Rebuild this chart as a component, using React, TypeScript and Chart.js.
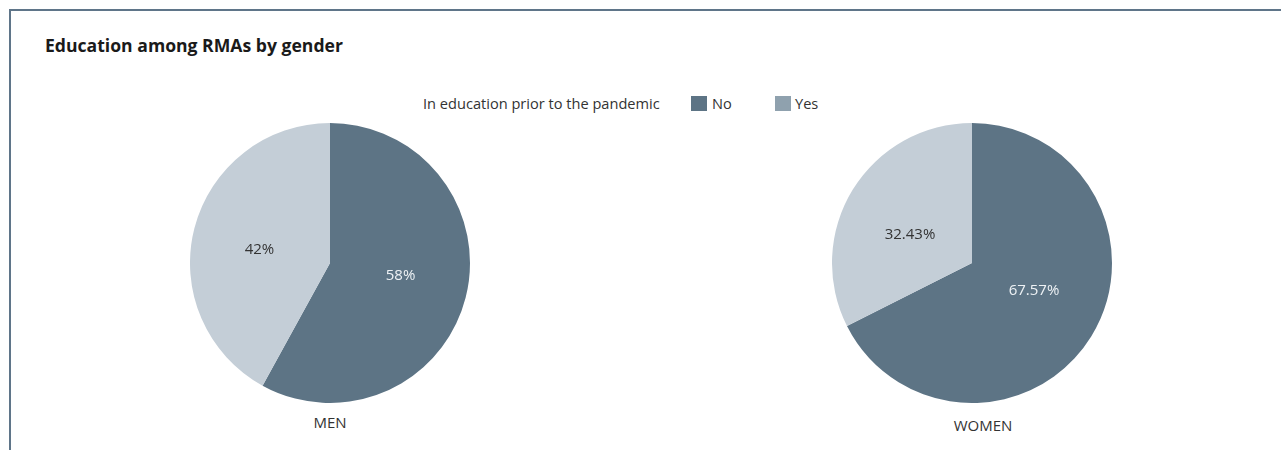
import React, { useEffect, useRef } from "react";
import { Chart, registerables } from "chart.js";

Chart.register(...registerables);

const chartTitle = "Education among RMAs by gender";
const legendTitle = "In education prior to the pandemic";
const categories = ["No", "Yes"];
const menValues = [58, 42];
const womenValues = [67.57, 32.43];
const groupLabels = ["MEN", "WOMEN"];

const sliceColors = ["#5d7485", "#c4ced7"];
const legendColors = ["#5d7485", "#8fa1ae"];
const labelColors = ["#eef2f5", "#333333"];
const FONT = "'Open Sans', 'Noto Sans', sans-serif";

const pctLabelPlugin = {
  id: "pctLabels",
  afterDatasetsDraw(chart: any) {
    const ctx = chart.ctx;
    const meta = chart.getDatasetMeta(0);
    const data = chart.data.datasets[0].data as number[];
    ctx.save();
    ctx.font = `15px ${FONT}`;
    ctx.textAlign = "center";
    ctx.textBaseline = "middle";
    meta.data.forEach((arc: any, i: number) => {
      const p = arc.getProps(["x", "y", "startAngle", "endAngle", "outerRadius"], true);
      const mid = (p.startAngle + p.endAngle) / 2;
      const x = p.x + Math.cos(mid) * p.outerRadius * 0.52;
      const y = p.y + Math.sin(mid) * p.outerRadius * 0.38;
      ctx.fillStyle = labelColors[i];
      ctx.fillText(`${data[i]}%`, x, y);
    });
    ctx.restore();
  },
};

function PieChart({ values, left, top }: { values: number[]; left: number; top: number }) {
  const ref = useRef<HTMLCanvasElement | null>(null);
  useEffect(() => {
    if (!ref.current) return;
    const chart = new Chart(ref.current, {
      type: "pie",
      data: {
        labels: categories,
        datasets: [
          {
            data: values,
            backgroundColor: sliceColors,
            borderWidth: 0,
          },
        ],
      },
      options: {
        responsive: false,
        animation: false,
        layout: { padding: 0 },
        plugins: {
          legend: { display: false },
          tooltip: { enabled: false },
          title: { display: false },
        },
      },
      plugins: [pctLabelPlugin],
    });
    return () => chart.destroy();
  }, [values]);
  return (
    <canvas
      ref={ref}
      width={280}
      height={280}
      style={{ position: "absolute", left, top, width: 280, height: 280 }}
    />
  );
}

export default function App() {
  return (
    <div
      style={{
        position: "fixed",
        left: 0,
        top: 0,
        width: 1281,
        height: 450,
        background: "#ffffff",
        overflow: "hidden",
        fontFamily: FONT,
        color: "#333333",
      }}
    >
      <div
        style={{
          position: "absolute",
          left: 9,
          top: 9,
          width: 1300,
          height: 460,
          borderTop: "2px solid #5f7589",
          borderLeft: "2px solid #5f7589",
        }}
      />
      <div
        style={{
          position: "absolute",
          left: 45,
          top: 32,
          fontSize: 17.6,
          fontWeight: 700,
          color: "#1a1a1a",
          whiteSpace: "nowrap",
          lineHeight: "26px",
        }}
      >
        {chartTitle}
      </div>
      <div
        style={{
          position: "absolute",
          left: 423,
          top: 93,
          fontSize: 14.6,
          lineHeight: "20px",
          whiteSpace: "nowrap",
          color: "#333333",
        }}
      >
        {legendTitle}
      </div>
      {categories.map((c, i) => (
        <React.Fragment key={c}>
          <div
            style={{
              position: "absolute",
              left: i === 0 ? 691 : 775,
              top: 96,
              width: 16,
              height: 15,
              background: legendColors[i],
            }}
          />
          <div
            style={{
              position: "absolute",
              left: i === 0 ? 712 : 795,
              top: 93,
              fontSize: 14.6,
              lineHeight: "20px",
              whiteSpace: "nowrap",
            }}
          >
            {c}
          </div>
        </React.Fragment>
      ))}
      <PieChart values={menValues} left={190} top={123} />
      <PieChart values={womenValues} left={832} top={123} />
      <div
        style={{
          position: "absolute",
          left: 230,
          width: 200,
          top: 412,
          textAlign: "center",
          fontSize: 15,
          lineHeight: "20px",
        }}
      >
        {groupLabels[0]}
      </div>
      <div
        style={{
          position: "absolute",
          left: 883,
          width: 200,
          top: 415,
          textAlign: "center",
          fontSize: 15,
          lineHeight: "20px",
        }}
      >
        {groupLabels[1]}
      </div>
    </div>
  );
}
